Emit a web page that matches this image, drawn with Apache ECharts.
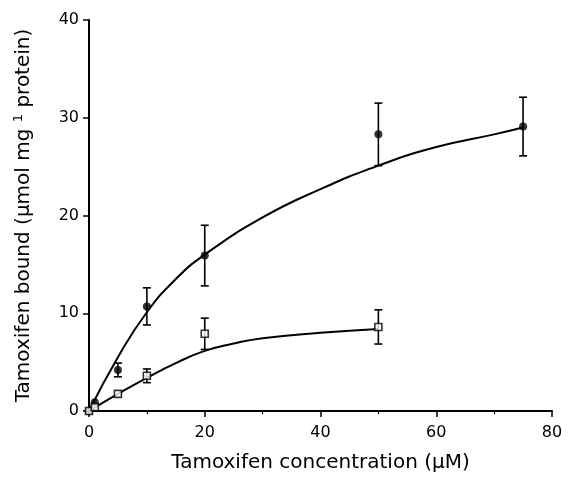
<!DOCTYPE html>
<html>
<head>
<meta charset="utf-8">
<script src="https://cdn.jsdelivr.net/npm/echarts@6/dist/echarts.min.js"></script>
<style>
html,body{margin:0;padding:0;background:#fff;overflow:hidden;}
#chart{width:568px;height:478px;}
</style>
</head>
<body>
<div id="chart"></div>
<script>
// Filled circles (series 1): concentration, bound, error (±)
var filledX = [0, 1, 5, 10, 20, 50, 75];
var filledY = [0, 0.9, 4.2, 10.7, 15.9, 28.3, 29.1];
var filledErr = [0, 0, 0.7, 1.9, 3.1, 3.2, 3.0];
// Open squares (series 2)
var openX = [0, 1, 5, 10, 20, 50];
var openY = [0, 0.4, 1.75, 3.6, 7.9, 8.6];
var openErr = [0, 0, 0, 0.7, 1.6, 1.75];
// Fitted curves
var curve1X = [0, 5, 10, 15, 20, 30, 40, 50, 60, 70, 75];
var curve1Y = [0, 5.5, 10.1, 13.5, 16.0, 19.8, 22.7, 25.1, 27.0, 28.3, 29.0];
var curve2X = [0, 5, 10, 15, 20, 25, 30, 40, 50];
var curve2Y = [0, 1.75, 3.4, 4.9, 6.15, 6.9, 7.45, 8.0, 8.4];
// Axis ticks
var xTicks = [0, 20, 40, 60, 80];
var yTicks = [0, 10, 20, 30, 40];

function zip(a, b) { return a.map(function (v, i) { return [v, b[i]]; }); }
function errData(xs, ys, es) {
  var out = [];
  xs.forEach(function (x, i) { if (es[i] > 0) out.push([x, ys[i] - es[i], ys[i] + es[i]]); });
  return out;
}
function errRender(params, api) {
  var x = api.value(0);
  var lo = api.coord([x, api.value(1)]);
  var hi = api.coord([x, api.value(2)]);
  var w = 4;
  var st = { stroke: '#000', lineWidth: 1.6 };
  return {
    type: 'group',
    children: [
      { type: 'line', shape: { x1: lo[0], y1: lo[1], x2: hi[0], y2: hi[1] }, style: st },
      { type: 'line', shape: { x1: lo[0] - w, y1: lo[1], x2: lo[0] + w, y2: lo[1] }, style: st },
      { type: 'line', shape: { x1: hi[0] - w, y1: hi[1], x2: hi[0] + w, y2: hi[1] }, style: st }
    ]
  };
}

var font = 'DejaVu Sans';
var chart = echarts.init(document.getElementById('chart'), null, { width: 568, height: 478 });
chart.setOption({
  animation: false,
  backgroundColor: '#fff',
  grid: { left: 89, right: 16, top: 20, bottom: 59, containLabel: false },
  xAxis: {
    type: 'value', min: xTicks[0], max: xTicks[xTicks.length - 1], interval: 20,
    name: 'Tamoxifen concentration (\u03bcM)',
    nameLocation: 'middle', nameGap: 42,
    nameTextStyle: { fontFamily: font, fontSize: 20, color: '#000' },
    axisLine: { lineStyle: { color: '#000', width: 2 } },
    axisTick: { show: true, inside: false, length: 6, lineStyle: { color: '#000', width: 1.5 } },
    minorTick: { show: true, splitNumber: 2, length: 3, lineStyle: { color: '#000', width: 1.2 } },
    axisLabel: { fontFamily: font, fontSize: 16, color: '#000', margin: 14 },
    splitLine: { show: false }
  },
  yAxis: {
    type: 'value', min: yTicks[0], max: yTicks[yTicks.length - 1], interval: 10,
    name: '{n|Tamoxifen bound (\u03bcmol mg }{s|1}{n| protein)}',
    nameLocation: 'middle', nameGap: 54, nameRotate: 90,
    nameTextStyle: {
      fontFamily: font, fontSize: 20, color: '#000',
      rich: {
        n: { fontFamily: font, fontSize: 20, color: '#000' },
        s: { fontFamily: font, fontSize: 13, color: '#000', verticalAlign: 'top', padding: [0, 0, 10, 0] }
      }
    },
    axisLine: { show: true, lineStyle: { color: '#000', width: 2 } },
    axisTick: { show: true, inside: false, length: 6, lineStyle: { color: '#000', width: 1.5 } },
    axisLabel: { fontFamily: font, fontSize: 16, color: '#000', margin: 10 },
    splitLine: { show: false }
  },
  series: [
    { type: 'line', data: zip(curve1X, curve1Y), smooth: 0.5, showSymbol: false,
      lineStyle: { color: '#000', width: 2 }, z: 2 },
    { type: 'line', data: zip(curve2X, curve2Y), smooth: 0.5, showSymbol: false,
      lineStyle: { color: '#000', width: 2 }, z: 2 },
    { type: 'custom', renderItem: errRender, data: errData(filledX, filledY, filledErr), z: 3 },
    { type: 'custom', renderItem: errRender, data: errData(openX, openY, openErr), z: 3 },
    { type: 'scatter', data: zip(filledX, filledY), symbol: 'circle', symbolSize: 8,
      itemStyle: { color: '#000' }, z: 4 },
    { type: 'scatter', data: zip(openX, openY), symbol: 'rect', symbolSize: 7,
      itemStyle: { color: '#fff', borderColor: '#000', borderWidth: 1.6 }, z: 4 }
  ]
});
</script>
</body>
</html>
